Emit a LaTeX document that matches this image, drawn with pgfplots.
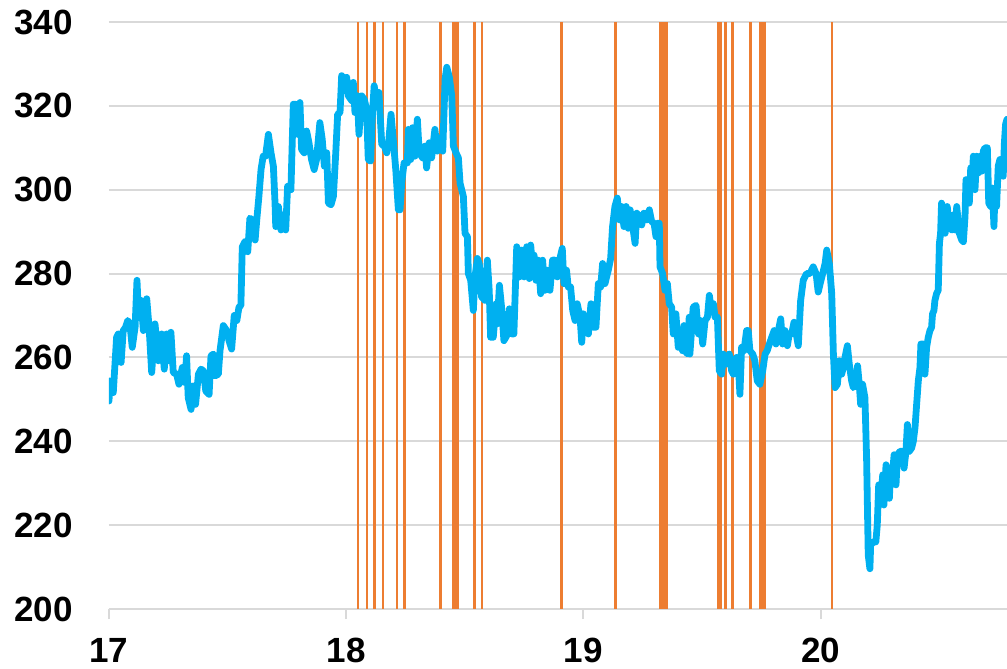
\documentclass[border=0pt]{standalone}
\usepackage{fontspec}
\setmainfont{Liberation Sans}
\usepackage{pgfplots}
\pgfplotsset{compat=1.18}
\definecolor{lineblue}{HTML}{00B0F0}
\definecolor{barorange}{HTML}{ED7D31}
\definecolor{gridgray}{HTML}{D9D9D9}
\begin{document}
\begin{tikzpicture}
\begin{axis}[
  scale only axis,
  width=449pt, height=293.5pt,
  xmin=17, xmax=20.786,
  ymin=200, ymax=340,
  xtick={17,18,19,20},
  ytick={200,220,...,340},
  xtick pos=bottom,
  ymajorgrids,
  grid style={gridgray, line width=1pt},
  axis line style={draw=none},
  tick align=outside,
  xtick style={gridgray, line width=1pt},
  major tick length=5pt,
  ytick style={draw=none},
  /pgf/number format/assume math mode=true,
  tick label style={font=\fontsize{17.5}{20}\selectfont\bfseries},
  xticklabel style={anchor=north, inner sep=0pt, yshift=-9.5pt},
  yticklabel style={anchor=east, inner sep=0pt, xshift=-13pt},
  clip=true,
]
\addplot[barorange, line width=1.3pt, ycomb, no markers] coordinates {
(18.050,340) (18.088,340) (18.120,340) (18.155,340) (18.214,340) (18.247,340)
(18.397,340) (18.450,340) (18.460,340) (18.469,340) (18.540,340) (18.573,340)
(18.908,340) (19.136,340) (19.325,340) (19.337,340) (19.351,340) (19.567,340)
(19.579,340) (19.600,340) (19.628,340) (19.705,340) (19.746,340) (19.756,340)
(19.765,340) (20.048,340)
};
\addplot[lineblue, line width=3.4pt, line join=round, line cap=round, no markers] table {
x y
17.000 249.6
17.004 254.4
17.018 251.6
17.032 264.8
17.039 265.6
17.051 258.8
17.060 266.4
17.070 267.2
17.079 268.8
17.088 268.0
17.098 262.4
17.110 267.2
17.118 278.4
17.124 270.4
17.135 273.6
17.145 266.4
17.159 274.0
17.169 267.2
17.180 256.4
17.194 268.0
17.208 259.2
17.222 265.6
17.233 257.2
17.243 265.6
17.253 259.2
17.261 266.0
17.271 256.4
17.285 256.0
17.295 253.6
17.309 257.6
17.320 254.0
17.327 260.4
17.334 250.4
17.346 247.6
17.355 253.2
17.365 248.8
17.377 256.0
17.388 257.2
17.398 256.8
17.408 252.0
17.422 251.2
17.430 260.4
17.440 260.8
17.447 255.6
17.461 256.0
17.468 261.6
17.482 267.6
17.496 266.4
17.506 264.0
17.517 262.0
17.528 270.0
17.539 268.8
17.548 272.0
17.556 272.4
17.562 286.4
17.573 287.6
17.585 285.2
17.594 293.2
17.604 292.8
17.616 288.0
17.623 292.8
17.632 298.4
17.641 304.8
17.650 308.0
17.660 308.0
17.672 313.2
17.683 308.8
17.693 305.6
17.700 296.8
17.703 291.2
17.714 296.0
17.725 290.4
17.735 294.0
17.745 290.4
17.753 300.8
17.767 300.0
17.777 320.4
17.787 320.4
17.795 313.2
17.805 320.8
17.812 309.6
17.823 308.8
17.833 314.0
17.843 311.2
17.854 307.2
17.865 304.8
17.875 307.2
17.889 316.0
17.899 312.0
17.908 305.6
17.918 308.8
17.925 296.8
17.936 296.4
17.946 298.4
17.956 308.8
17.964 318.0
17.974 318.4
17.981 327.2
17.992 326.0
18.002 326.8
18.009 322.4
18.024 321.2
18.030 325.6
18.037 318.4
18.047 322.4
18.054 313.2
18.065 322.4
18.076 321.6
18.086 319.2
18.093 307.2
18.103 306.8
18.111 318.4
18.118 324.8
18.128 320.8
18.138 323.2
18.150 310.8
18.161 310.4
18.171 308.8
18.180 312.0
18.189 318.0
18.199 311.6
18.209 304.8
18.220 295.2
18.227 295.2
18.234 301.6
18.244 306.4
18.258 306.4
18.262 314.4
18.272 307.2
18.280 314.8
18.290 308.0
18.300 316.8
18.308 308.8
18.322 307.6
18.332 310.4
18.339 305.2
18.350 311.2
18.360 307.6
18.374 314.4
18.384 309.2
18.396 312.4
18.407 309.2
18.417 326.4
18.424 329.2
18.435 326.8
18.445 322.4
18.452 310.4
18.463 308.8
18.473 307.6
18.480 301.6
18.494 298.4
18.501 289.6
18.511 288.8
18.515 280.0
18.525 278.4
18.536 271.2
18.543 279.2
18.553 283.6
18.561 282.4
18.571 274.4
18.585 273.6
18.595 283.2
18.603 276.0
18.609 264.8
18.620 264.8
18.632 272.8
18.637 268.0
18.646 277.2
18.655 272.0
18.665 264.0
18.677 265.2
18.688 271.6
18.698 265.6
18.707 265.6
18.712 274.4
18.719 286.4
18.730 279.2
18.740 285.6
18.750 279.2
18.761 286.4
18.772 278.8
18.778 286.8
18.786 280.8
18.792 284.4
18.800 278.4
18.810 283.2
18.820 275.2
18.828 283.2
18.838 276.0
18.848 280.8
18.859 276.0
18.870 283.2
18.880 283.2
18.890 279.2
18.901 283.6
18.911 286.0
18.918 277.6
18.929 280.8
18.936 276.8
18.946 276.8
18.955 271.2
18.965 268.8
18.974 272.8
18.986 269.6
18.993 263.6
19.000 270.4
19.011 267.2
19.021 265.6
19.032 272.8
19.042 267.2
19.053 267.2
19.063 277.6
19.073 276.8
19.081 282.4
19.091 277.6
19.105 280.8
19.115 283.6
19.123 291.2
19.133 296.0
19.143 298.0
19.152 292.8
19.161 296.0
19.171 291.2
19.180 296.0
19.189 290.8
19.197 295.2
19.208 291.2
19.218 287.2
19.225 294.4
19.236 293.6
19.246 291.6
19.255 294.4
19.267 292.8
19.278 295.2
19.288 292.4
19.298 292.0
19.306 288.8
19.312 292.0
19.320 292.0
19.323 281.6
19.334 280.0
19.344 276.0
19.354 277.6
19.362 272.8
19.372 272.0
19.379 265.6
19.390 270.4
19.400 262.4
19.410 264.0
19.418 261.6
19.424 267.6
19.432 261.2
19.442 260.8
19.446 269.6
19.449 260.8
19.463 272.0
19.475 272.4
19.485 265.6
19.494 268.8
19.503 263.2
19.513 268.8
19.523 269.6
19.531 274.8
19.538 272.0
19.548 272.8
19.555 269.6
19.565 269.6
19.573 256.8
19.583 256.0
19.590 260.8
19.601 258.4
19.615 260.8
19.625 256.8
19.632 256.0
19.639 259.2
19.646 260.0
19.653 258.4
19.660 251.2
19.667 262.4
19.677 261.6
19.688 266.4
19.695 266.4
19.702 261.6
19.714 260.8
19.723 259.2
19.733 254.4
19.744 253.6
19.756 256.8
19.766 260.8
19.775 261.6
19.784 263.2
19.794 264.8
19.804 266.4
19.812 263.2
19.822 266.4
19.832 269.2
19.840 263.2
19.850 266.4
19.860 262.8
19.868 265.6
19.878 265.6
19.888 268.4
19.896 266.0
19.906 262.8
19.916 273.6
19.927 278.4
19.941 280.0
19.955 280.0
19.969 281.6
19.981 280.0
19.990 275.6
20.000 278.0
20.009 280.0
20.019 282.4
20.026 285.6
20.037 282.4
20.047 275.2
20.054 260.8
20.061 252.8
20.071 253.6
20.079 259.2
20.089 256.0
20.096 257.6
20.103 260.0
20.113 262.8
20.121 258.4
20.131 254.4
20.138 252.8
20.149 253.6
20.156 258.0
20.163 253.6
20.169 248.8
20.177 253.6
20.187 250.4
20.194 236.0
20.201 212.8
20.208 209.6
20.211 215.2
20.222 216.0
20.233 216.0
20.239 220.0
20.245 229.6
20.253 225.6
20.262 232.0
20.267 224.8
20.276 234.4
20.283 230.4
20.290 226.4
20.296 233.6
20.304 232.8
20.310 236.8
20.318 229.6
20.324 236.8
20.335 237.6
20.346 237.6
20.352 233.6
20.360 237.6
20.366 244.0
20.374 237.6
20.384 238.4
20.391 240.0
20.398 243.2
20.405 248.8
20.412 254.4
20.419 257.6
20.423 263.2
20.433 263.2
20.440 256.0
20.447 262.4
20.454 264.8
20.461 266.4
20.468 267.2
20.472 270.4
20.478 271.2
20.482 273.6
20.489 275.2
20.496 276.0
20.501 287.2
20.506 289.6
20.510 296.8
20.517 295.2
20.525 289.6
20.534 296.0
20.543 291.2
20.553 290.4
20.560 294.0
20.567 290.4
20.574 296.0
20.585 289.6
20.595 288.0
20.602 287.6
20.609 293.6
20.613 302.4
20.619 300.8
20.627 296.8
20.633 305.2
20.638 301.2
20.644 308.0
20.651 300.0
20.658 308.0
20.665 304.0
20.672 308.0
20.679 304.4
20.686 309.2
20.693 310.0
20.703 310.0
20.709 296.8
20.717 296.0
20.724 300.4
20.731 291.2
20.735 299.2
20.742 296.0
20.749 305.6
20.756 307.2
20.765 307.2
20.770 303.2
20.775 311.2
20.780 315.6
20.786 316.8
};
\end{axis}
\pgfresetboundingbox
\path ([xshift=-54.5pt,yshift=-30pt]current axis.south west) rectangle ([yshift=11pt]current axis.north east);
\end{tikzpicture}
\end{document}
